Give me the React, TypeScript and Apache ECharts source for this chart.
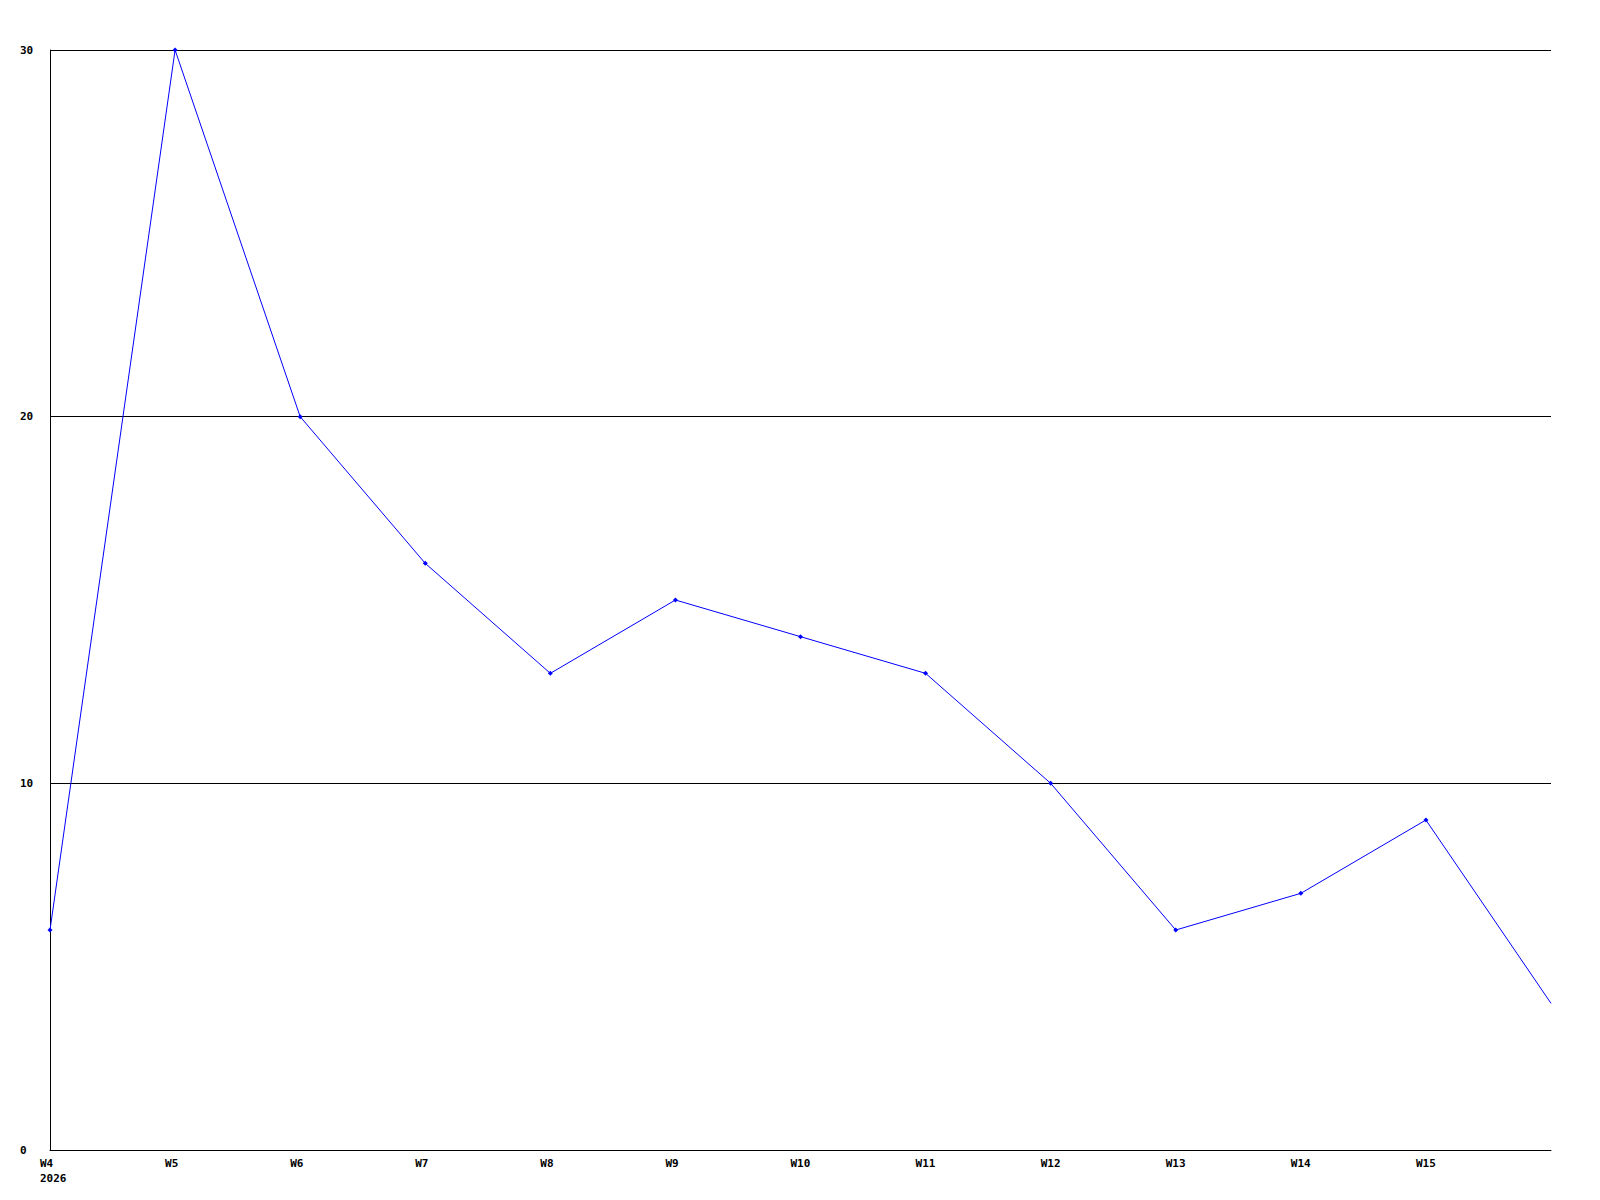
import React, { useEffect, useRef } from "react";
import * as echarts from "echarts";

const weeks = ["W4", "W5", "W6", "W7", "W8", "W9", "W10", "W11", "W12", "W13", "W14", "W15", "W16"];
const values = [6, 30, 20, 16, 13, 15, 14, 13, 10, 6, 7, 9, 4];
const yTicks = [0, 10, 20, 30];
const yearLabel = "2026";

export default function App() {
  const ref = useRef<HTMLDivElement>(null);
  useEffect(() => {
    if (!ref.current) return;
    const chart = echarts.init(ref.current, undefined, { renderer: "svg" });
    const font = {
      fontFamily: "DejaVu Sans Mono",
      fontWeight: "bold" as const,
      fontSize: 11,
      color: "#000",
    };
    const last = values.length - 1;
    chart.setOption({
      animation: false,
      backgroundColor: "#fff",
      grid: { left: 50, top: 50, width: 1501, height: 1100, containLabel: false },
      xAxis: {
        type: "category",
        data: weeks,
        boundaryGap: false,
        axisLine: { lineStyle: { color: "#000", width: 1 } },
        axisTick: { show: false },
        splitLine: { show: false },
        axisLabel: {
          ...font,
          margin: 6,
          interval: 0,
          lineHeight: 15,
          align: "left",
          padding: [0, 0, 0, -10],
          formatter: (v: string, i: number) => (i === 0 ? v + "\n" + yearLabel : i === last ? "" : v),
        },
      },
      yAxis: {
        type: "value",
        min: yTicks[0],
        max: yTicks[yTicks.length - 1],
        interval: 10,
        axisLine: { show: true, lineStyle: { color: "#000", width: 1 } },
        axisTick: { show: false },
        splitLine: { show: true, lineStyle: { color: "#000", width: 1 } },
        axisLabel: { ...font, align: "left", margin: 30 },
      },
      series: [
        {
          type: "line",
          data: values.map((v, i) => (i === last ? { value: v, symbol: "none" } : v)),
          symbol: "diamond",
          symbolSize: 5,
          showSymbol: true,
          lineStyle: { color: "#0000ff", width: 1 },
          itemStyle: { color: "#0000ff" },
        },
      ],
    });
    return () => chart.dispose();
  }, []);
  return (
    <div
      ref={ref}
      style={{ position: "absolute", left: 0, top: 0, width: 1600, height: 1200 }}
    />
  );
}
